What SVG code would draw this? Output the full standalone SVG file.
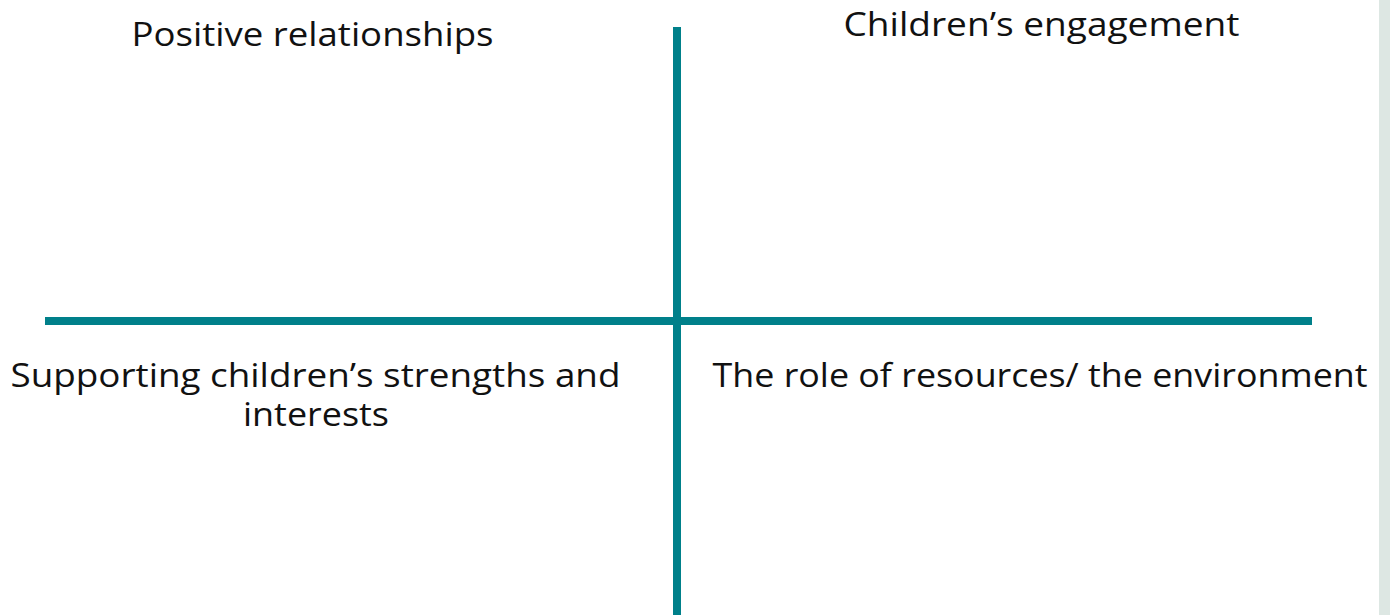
<svg xmlns="http://www.w3.org/2000/svg" width="1390" height="615" viewBox="0 0 1390 615">
  <style>
    .axis { stroke: #00808a; stroke-width: 8; fill: none; }
    .label { font-family: "Open Sans", Lato, "Liberation Sans", sans-serif; font-size: 33px; fill: #111111; text-anchor: middle; }
  </style>
  <rect x="0" y="0" width="1390" height="615" fill="#ffffff"/>
  <!-- side strip -->
  <rect x="1379" y="0" width="11" height="615" fill="#dde7e3"/>
  <g id="connectors">
    <line class="axis" x1="677" y1="27" x2="677" y2="615"/>
    <line class="axis" x1="45" y1="321" x2="1312" y2="321"/>
  </g>
  <g id="positive-relationships">
    <text class="label" x="312.5" y="46" textLength="362" lengthAdjust="spacingAndGlyphs">Positive relationships</text>
  </g>
  <g id="childrens-engagement">
    <text class="label" x="1041.5" y="36" textLength="396" lengthAdjust="spacingAndGlyphs">Children’s engagement</text>
  </g>
  <g id="strengths-interests">
    <text class="label" x="315.5" y="387" textLength="610" lengthAdjust="spacingAndGlyphs">Supporting children’s strengths and</text>
    <text class="label" x="316" y="426" textLength="146" lengthAdjust="spacingAndGlyphs">interests</text>
  </g>
  <g id="resources-environment">
    <text class="label" x="1040" y="387" textLength="655" lengthAdjust="spacingAndGlyphs">The role of resources/ the environment</text>
  </g>
</svg>
